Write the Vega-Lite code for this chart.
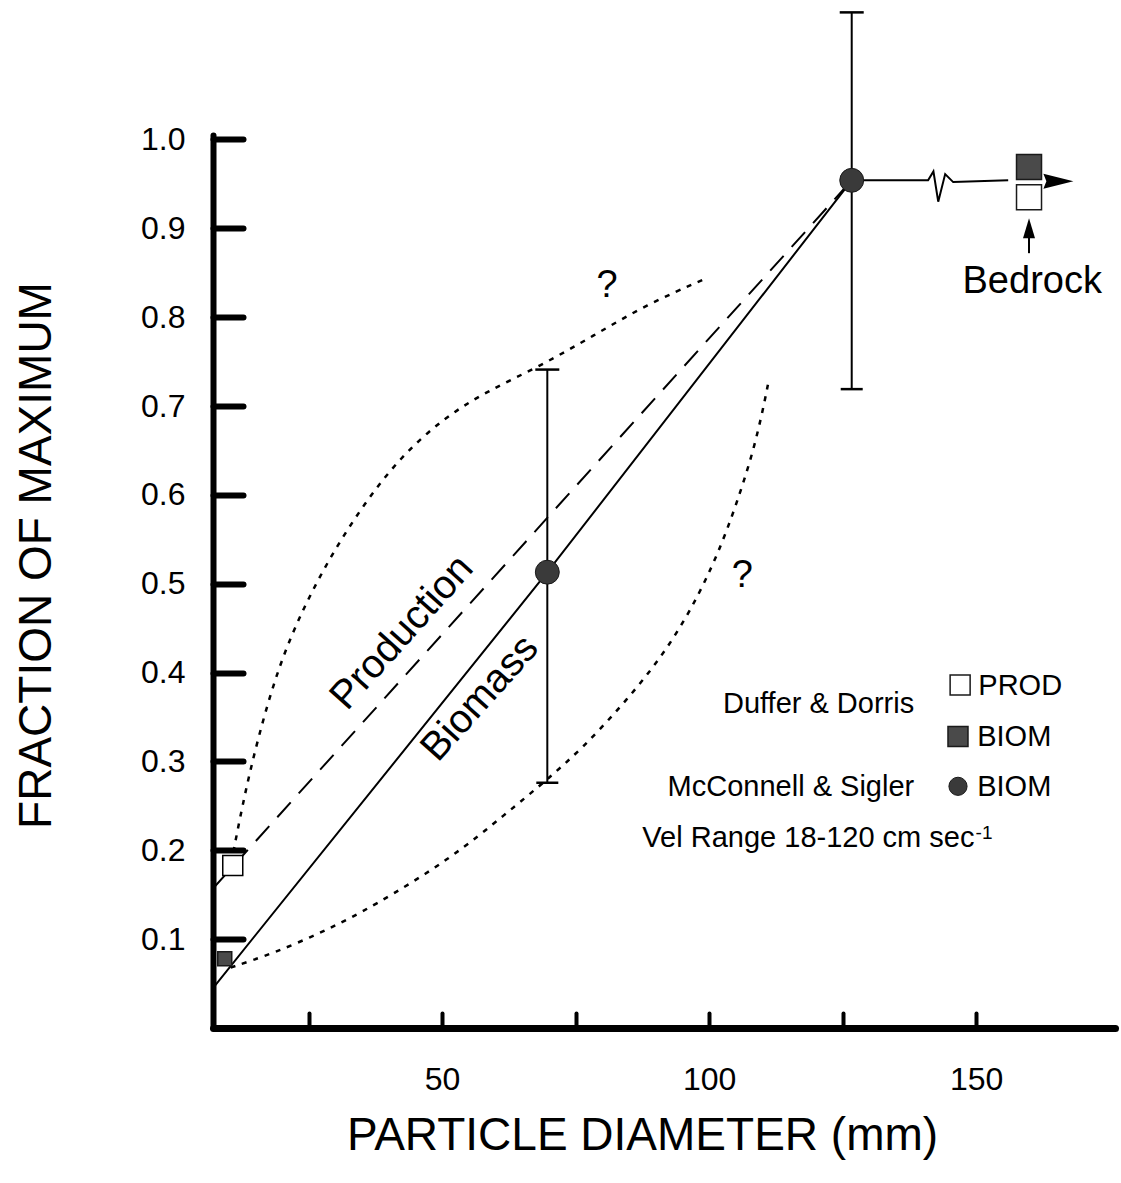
{
  "$schema": "https://vega.github.io/schema/vega-lite/v6.json",
  "width": 902,
  "height": 893,
  "autosize": {"type": "none"},
  "padding": {"left": 213, "top": 135, "right": 6, "bottom": 155},
  "background": "white",
  "config": {
    "view": {"stroke": null},
    "font": "Liberation Sans",
    "axis": {
      "grid": false,
      "domainColor": "black",
      "tickColor": "black",
      "labelColor": "black",
      "titleColor": "black",
      "labelFont": "Liberation Sans",
      "titleFont": "Liberation Sans",
      "titleFontWeight": "normal",
      "domainCap": "round",
      "tickCap": "round"
    }
  },
  "datasets": {
    "curves": [
      {"series": "Biomass", "i": 0, "x": 7.1, "y": 0.045},
      {"series": "Biomass", "i": 1, "x": 69.7, "y": 0.513},
      {"series": "Biomass", "i": 2, "x": 126.7, "y": 0.954},
      {"series": "Production", "i": 0, "x": 7.1, "y": 0.157},
      {"series": "Production", "i": 1, "x": 126.7, "y": 0.954},
      {"series": "upper", "i": 0, "x": 10.5, "y": 0.185},
      {"series": "upper", "i": 1, "x": 12.7, "y": 0.254},
      {"series": "upper", "i": 2, "x": 15.4, "y": 0.324},
      {"series": "upper", "i": 3, "x": 19.4, "y": 0.408},
      {"series": "upper", "i": 4, "x": 24.1, "y": 0.474},
      {"series": "upper", "i": 5, "x": 29.4, "y": 0.534},
      {"series": "upper", "i": 6, "x": 35.4, "y": 0.59},
      {"series": "upper", "i": 7, "x": 42.1, "y": 0.642},
      {"series": "upper", "i": 8, "x": 50.2, "y": 0.686},
      {"series": "upper", "i": 9, "x": 58.2, "y": 0.716},
      {"series": "upper", "i": 10, "x": 68.4, "y": 0.745},
      {"series": "upper", "i": 11, "x": 78.3, "y": 0.779},
      {"series": "upper", "i": 12, "x": 88.2, "y": 0.814},
      {"series": "upper", "i": 13, "x": 99.6, "y": 0.844},
      {"series": "lower", "i": 0, "x": 10.4, "y": 0.068},
      {"series": "lower", "i": 1, "x": 18.4, "y": 0.084},
      {"series": "lower", "i": 2, "x": 28.4, "y": 0.11},
      {"series": "lower", "i": 3, "x": 37.1, "y": 0.137},
      {"series": "lower", "i": 4, "x": 51.5, "y": 0.19},
      {"series": "lower", "i": 5, "x": 62.1, "y": 0.242},
      {"series": "lower", "i": 6, "x": 69.0, "y": 0.276},
      {"series": "lower", "i": 7, "x": 76.5, "y": 0.316},
      {"series": "lower", "i": 8, "x": 84.6, "y": 0.369},
      {"series": "lower", "i": 9, "x": 92.1, "y": 0.425},
      {"series": "lower", "i": 10, "x": 98.3, "y": 0.489},
      {"series": "lower", "i": 11, "x": 102.7, "y": 0.549},
      {"series": "lower", "i": 12, "x": 105.8, "y": 0.602},
      {"series": "lower", "i": 13, "x": 108.3, "y": 0.65},
      {"series": "lower", "i": 14, "x": 110.2, "y": 0.699},
      {"series": "lower", "i": 15, "x": 111.1, "y": 0.727},
      {"series": "bedrock", "i": 0, "x": 126.7, "y": 0.954},
      {"series": "bedrock", "i": 1, "x": 141.0, "y": 0.954},
      {"series": "bedrock", "i": 2, "x": 142.0, "y": 0.964},
      {"series": "bedrock", "i": 3, "x": 142.9, "y": 0.93},
      {"series": "bedrock", "i": 4, "x": 144.2, "y": 0.961},
      {"series": "bedrock", "i": 5, "x": 145.7, "y": 0.952},
      {"series": "bedrock", "i": 6, "x": 156.0, "y": 0.954}
    ],
    "bars": [
      {"x": 69.7, "lo": 0.276, "hi": 0.741},
      {"x": 126.7, "lo": 0.719, "hi": 1.143}
    ],
    "obs": [
      {"study": "Duffer & Dorris", "kind": "PROD", "site": "gravel", "x": 10.8, "y": 0.183},
      {"study": "Duffer & Dorris", "kind": "BIOM", "site": "gravel", "x": 9.3, "y": 0.078},
      {"study": "Duffer & Dorris", "kind": "PROD", "site": "bedrock", "x": 159.9, "y": 0.935},
      {"study": "Duffer & Dorris", "kind": "BIOM", "site": "bedrock", "x": 159.9, "y": 0.969},
      {"study": "McConnell & Sigler", "kind": "BIOM", "site": "gravel", "x": 69.7, "y": 0.513},
      {"study": "McConnell & Sigler", "kind": "BIOM", "site": "gravel", "x": 126.7, "y": 0.954}
    ],
    "key": [
      {"study": "Duffer & Dorris", "kind": "PROD", "x": 147.0, "y": 0.386},
      {"study": "Duffer & Dorris", "kind": "BIOM", "x": 146.6, "y": 0.328},
      {"study": "McConnell & Sigler", "kind": "BIOM", "x": 146.6, "y": 0.272}
    ]
  },
  "layer": [
    {
      "data": {"name": "curves"},
      "transform": [{"filter": "datum.series === 'Biomass'"}],
      "mark": {"type": "line", "color": "black", "strokeWidth": 2},
      "encoding": {
        "x": {
          "field": "x", "type": "quantitative",
          "scale": {"domain": [7.1, 176], "nice": false, "zero": false},
          "axis": {
            "title": "PARTICLE DIAMETER (mm)",
            "titleFontSize": 46,
            "titleX": 429,
            "titleY": 121,
            "titleAlign": "center",
            "titleBaseline": "alphabetic",
            "values": [25, 50, 75, 100, 125, 150],
            "labelExpr": "datum.value % 50 === 0 ? datum.label : ''",
            "labelFontSize": 32,
            "labelPadding": 51,
            "labelBaseline": "top",
            "tickSize": -15,
            "tickWidth": 4,
            "domainWidth": 7
          }
        },
        "y": {
          "field": "y", "type": "quantitative",
          "scale": {"domain": [0, 1.005], "nice": false},
          "axis": {
            "title": "FRACTION OF MAXIMUM",
            "titleFontSize": 46,
            "titleX": -177,
            "titleY": 420,
            "titleAngle": -90,
            "titleAlign": "center",
            "titleBaseline": "middle",
            "values": [0.1, 0.2, 0.3, 0.4, 0.5, 0.6, 0.7, 0.8, 0.9, 1.0],
            "format": ".1f",
            "labelFontSize": 32,
            "labelPadding": 58,
            "tickSize": -30,
            "tickWidth": 6,
            "domainWidth": 6
          }
        },
        "order": {"field": "i", "type": "quantitative"}
      }
    },
    {
      "data": {"name": "curves"},
      "transform": [{"filter": "datum.series === 'Production'"}],
      "mark": {"type": "line", "color": "black", "strokeWidth": 2, "strokeDash": [20, 12]},
      "encoding": {
        "x": {"field": "x", "type": "quantitative"},
        "y": {"field": "y", "type": "quantitative"},
        "order": {"field": "i", "type": "quantitative"}
      }
    },
    {
      "data": {"name": "curves"},
      "transform": [{"filter": "datum.series === 'upper' || datum.series === 'lower'"}],
      "mark": {"type": "line", "color": "black", "strokeWidth": 2.5, "strokeDash": [5, 7], "interpolate": "basis"},
      "encoding": {
        "x": {"field": "x", "type": "quantitative"},
        "y": {"field": "y", "type": "quantitative"},
        "detail": {"field": "series"},
        "order": {"field": "i", "type": "quantitative"}
      }
    },
    {
      "data": {"name": "curves"},
      "transform": [{"filter": "datum.series === 'bedrock'"}],
      "mark": {"type": "line", "color": "black", "strokeWidth": 2},
      "encoding": {
        "x": {"field": "x", "type": "quantitative"},
        "y": {"field": "y", "type": "quantitative"},
        "order": {"field": "i", "type": "quantitative"}
      }
    },
    {
      "data": {"name": "bars"},
      "mark": {"type": "rule", "color": "black", "strokeWidth": 2},
      "encoding": {
        "x": {"field": "x", "type": "quantitative"},
        "y": {"field": "lo", "type": "quantitative"},
        "y2": {"field": "hi"}
      }
    },
    {
      "data": {"name": "bars"},
      "mark": {"type": "tick", "orient": "horizontal", "color": "black", "size": 22, "thickness": 2.5, "opacity": 1},
      "encoding": {
        "x": {"field": "x", "type": "quantitative"},
        "y": {"field": "lo", "type": "quantitative"}
      }
    },
    {
      "data": {"name": "bars"},
      "mark": {"type": "tick", "orient": "horizontal", "color": "black", "size": 24, "thickness": 2.5, "opacity": 1},
      "encoding": {
        "x": {"field": "x", "type": "quantitative"},
        "y": {"field": "hi", "type": "quantitative"}
      }
    },
    {
      "data": {"values": [{"x": 159.9, "from": 0.872, "to": 0.903}]},
      "mark": {"type": "rule", "color": "black", "strokeWidth": 2},
      "encoding": {
        "x": {"field": "x", "type": "quantitative"},
        "y": {"field": "from", "type": "quantitative"},
        "y2": {"field": "to"}
      }
    },
    {
      "data": {"values": [{"x": 159.9, "y": 0.9}]},
      "mark": {"type": "point", "shape": "M-0.6,1L0,-1L0.6,1Z", "size": 400, "filled": true, "color": "black", "opacity": 1},
      "encoding": {
        "x": {"field": "x", "type": "quantitative"},
        "y": {"field": "y", "type": "quantitative"}
      }
    },
    {
      "data": {"values": [{"x": 165.4, "y": 0.953}]},
      "mark": {"type": "point", "shape": "M-1,-0.5L1,0L-1,0.5L-0.8,0Z", "size": 900, "filled": true, "color": "black", "opacity": 1},
      "encoding": {
        "x": {"field": "x", "type": "quantitative"},
        "y": {"field": "y", "type": "quantitative"}
      }
    },
    {
      "data": {"name": "obs"},
      "transform": [{"filter": "datum.kind === 'PROD' && datum.site === 'gravel'"}],
      "mark": {"type": "point", "shape": "square", "size": 400, "fill": "white", "stroke": "black", "strokeWidth": 1.5, "opacity": 1},
      "encoding": {
        "x": {"field": "x", "type": "quantitative"},
        "y": {"field": "y", "type": "quantitative"}
      }
    },
    {
      "data": {"name": "obs"},
      "transform": [{"filter": "datum.kind === 'BIOM' && datum.site === 'gravel' && datum.study === 'Duffer & Dorris'"}],
      "mark": {"type": "point", "shape": "square", "size": 196, "fill": "#4a4a4a", "stroke": "#1a1a1a", "strokeWidth": 1.5, "opacity": 1},
      "encoding": {
        "x": {"field": "x", "type": "quantitative"},
        "y": {"field": "y", "type": "quantitative"}
      }
    },
    {
      "data": {"name": "obs"},
      "transform": [{"filter": "datum.site === 'bedrock'"}],
      "mark": {"type": "point", "shape": "square", "size": 625, "stroke": "#1a1a1a", "strokeWidth": 1.5, "opacity": 1, "filled": true},
      "encoding": {
        "x": {"field": "x", "type": "quantitative"},
        "y": {"field": "y", "type": "quantitative"},
        "fill": {
          "field": "kind", "type": "nominal", "legend": null,
          "scale": {"domain": ["PROD", "BIOM"], "range": ["white", "#4a4a4a"]}
        }
      }
    },
    {
      "data": {"name": "obs"},
      "transform": [{"filter": "datum.study === 'McConnell & Sigler'"}],
      "mark": {"type": "point", "shape": "circle", "size": 572, "fill": "#3a3a3a", "stroke": "#1a1a1a", "strokeWidth": 1, "opacity": 1, "filled": true},
      "encoding": {
        "x": {"field": "x", "type": "quantitative"},
        "y": {"field": "y", "type": "quantitative"}
      }
    },
    {
      "data": {"name": "key"},
      "transform": [{"filter": "datum.study === 'Duffer & Dorris'"}],
      "mark": {"type": "point", "shape": "square", "size": 400, "stroke": "#1a1a1a", "strokeWidth": 1.5, "opacity": 1, "filled": true},
      "encoding": {
        "x": {"field": "x", "type": "quantitative"},
        "y": {"field": "y", "type": "quantitative"},
        "fill": {
          "field": "kind", "type": "nominal", "legend": null,
          "scale": {"domain": ["PROD", "BIOM"], "range": ["white", "#4a4a4a"]}
        }
      }
    },
    {
      "data": {"name": "key"},
      "transform": [{"filter": "datum.study === 'McConnell & Sigler'"}],
      "mark": {"type": "point", "shape": "circle", "size": 330, "fill": "#3a3a3a", "stroke": "#1a1a1a", "strokeWidth": 1, "opacity": 1, "filled": true},
      "encoding": {
        "x": {"field": "x", "type": "quantitative"},
        "y": {"field": "y", "type": "quantitative"}
      }
    },
    {
      "data": {"values": [{"text": "Production", "x": 42.5, "y": 0.445}]},
      "mark": {"type": "text", "fontSize": 40, "angle": -48, "align": "center", "baseline": "middle", "color": "black"},
      "encoding": {
        "x": {"field": "x", "type": "quantitative"},
        "y": {"field": "y", "type": "quantitative"},
        "text": {"field": "text"}
      }
    },
    {
      "data": {"values": [{"text": "Biomass", "x": 57.1, "y": 0.371}]},
      "mark": {"type": "text", "fontSize": 40, "angle": -48, "align": "center", "baseline": "middle", "color": "black"},
      "encoding": {
        "x": {"field": "x", "type": "quantitative"},
        "y": {"field": "y", "type": "quantitative"},
        "text": {"field": "text"}
      }
    },
    {
      "data": {"values": [
        {"text": "?", "x": 80.9, "y": 0.823},
        {"text": "?", "x": 106.2, "y": 0.496},
        {"text": "Bedrock", "x": 160.5, "y": 0.827}
      ]},
      "mark": {"type": "text", "fontSize": 38, "align": "center", "baseline": "alphabetic", "color": "black"},
      "encoding": {
        "x": {"field": "x", "type": "quantitative"},
        "y": {"field": "y", "type": "quantitative"},
        "text": {"field": "text"}
      }
    },
    {
      "data": {"values": [
        {"text": "Duffer & Dorris", "x": 138.4, "y": 0.355},
        {"text": "McConnell & Sigler", "x": 138.4, "y": 0.261}
      ]},
      "mark": {"type": "text", "fontSize": 29, "align": "right", "baseline": "alphabetic", "color": "black"},
      "encoding": {
        "x": {"field": "x", "type": "quantitative"},
        "y": {"field": "y", "type": "quantitative"},
        "text": {"field": "text"}
      }
    },
    {
      "data": {"values": [
        {"text": "PROD", "x": 150.4, "y": 0.375},
        {"text": "BIOM", "x": 150.2, "y": 0.317},
        {"text": "BIOM", "x": 150.2, "y": 0.261},
        {"text": "Vel Range 18-120 cm sec", "x": 87.5, "y": 0.204}
      ]},
      "mark": {"type": "text", "fontSize": 29, "align": "left", "baseline": "alphabetic", "color": "black"},
      "encoding": {
        "x": {"field": "x", "type": "quantitative"},
        "y": {"field": "y", "type": "quantitative"},
        "text": {"field": "text"}
      }
    },
    {
      "data": {"values": [{"text": "-1", "x": 149.9, "y": 0.213}]},
      "mark": {"type": "text", "fontSize": 19, "align": "left", "baseline": "alphabetic", "color": "black"},
      "encoding": {
        "x": {"field": "x", "type": "quantitative"},
        "y": {"field": "y", "type": "quantitative"},
        "text": {"field": "text"}
      }
    }
  ]
}
